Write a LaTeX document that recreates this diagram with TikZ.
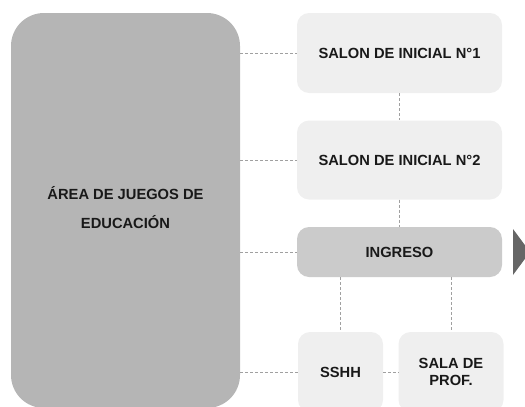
\documentclass[tikz,border=0pt]{standalone}
\usepackage{fontspec}
\setmainfont{Liberation Sans}
\begin{document}
\begin{tikzpicture}[x=1pt,y=-1pt,
  box/.style={draw=none,rounded corners=12pt,inner sep=0pt,align=center,
    font=\fontsize{14.7}{17}\selectfont\bfseries,text=black!90},
  light/.style={box,fill=lightbox},
  conn/.style={draw=dashgray,line width=0.9pt,dash pattern=on 3pt off 2pt}]
\definecolor{lightbox}{HTML}{EFEFEF}
\definecolor{midbox}{HTML}{CBCBCB}
\definecolor{bigbox}{HTML}{B5B5B5}
\definecolor{dashgray}{HTML}{A0A0A0}
\definecolor{arrowgray}{HTML}{666666}
\useasboundingbox (0,0) rectangle (525,407);
\clip (0,0) rectangle (525,407);
% nodes
\node[box,fill=bigbox,rounded corners=33pt,minimum width=229pt,minimum height=395pt] (area) at (125.5,210.5) {};
\node[font=\fontsize{14.7}{29}\selectfont\bfseries,text=black!90,align=center] (arealabel) at (125.5,208) {ÁREA DE JUEGOS DE\\EDUCACIÓN};
\node[light,minimum width=205pt,minimum height=80pt] (s1) at (399.5,53) {SALON DE INICIAL N°1};
\node[light,minimum width=205pt,minimum height=79pt] (s2) at (399.5,160) {SALON DE INICIAL N°2};
\node[box,fill=midbox,minimum width=205pt,minimum height=50pt] (ing) at (399.5,252) {INGRESO};
\node[light,minimum width=85pt,minimum height=80pt] (sshh) at (340.5,372) {SSHH};
\node[light,minimum width=105pt,minimum height=80pt] (sala) at (451,372) {SALA DE\\PROF.};
\coordinate (a1) at (area.east |- s1);
\coordinate (a2) at (area.east |- s2);
\coordinate (a3) at (area.east |- ing);
\coordinate (a4) at (area.east |- sshh);
% connectors
\draw[conn] (a1) -- (s1.west);
\draw[conn] (a2) -- (s2.west);
\draw[conn] (a3) -- (ing.west);
\draw[conn] (a4) -- (sshh.west);
\draw[conn] (sshh.east) -- (sala.west);
\draw[conn] (s1.south) -- (s2.north);
\draw[conn] (s2.south) -- (ing.north);
\draw[conn] (ing.south -| sshh) -- (sshh.north);
\draw[conn] (ing.south -| sala) -- (sala.north);
% arrow
\fill[arrowgray] (513,229) -- (530,252) -- (513,275) -- cycle;
\end{tikzpicture}
\end{document}
